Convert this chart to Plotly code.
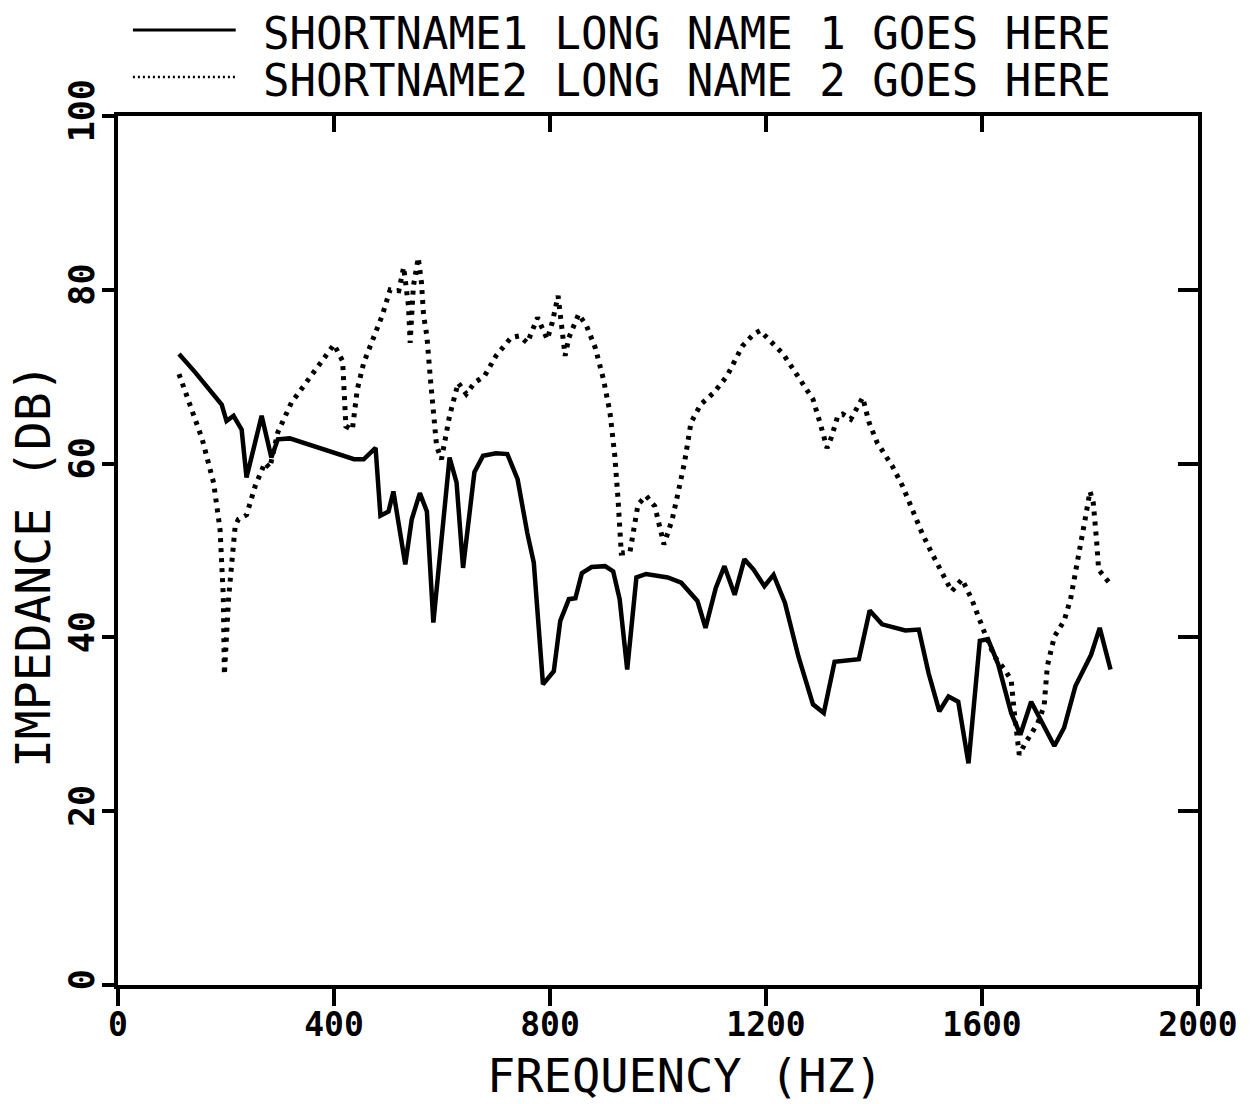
import plotly.graph_objects as go

# Series 1 (solid)
freq1 = [113, 143, 192, 201, 214, 229, 238, 266, 284, 296, 318, 425, 437, 455, 477, 486, 501, 510,
         532, 544, 559, 572, 584, 614, 627, 639, 660, 676, 700, 721, 740, 758, 770, 787, 807, 819,
         835, 847, 859, 877, 902, 917, 929, 943, 960, 978, 1018, 1043, 1073, 1088, 1107, 1123, 1142,
         1160, 1177, 1197, 1214, 1235, 1260, 1287, 1307, 1327, 1372, 1392, 1415, 1458, 1483, 1501,
         1521, 1538, 1556, 1575, 1596, 1611, 1630, 1654, 1671, 1691, 1709, 1734, 1752, 1773, 1802,
         1818, 1838]
imp1 = [72.6, 70.5, 66.8, 64.9, 65.5, 63.9, 58.4, 65.5, 60.7, 62.8, 62.9, 60.7, 60.5, 60.5, 61.8,
        54.0, 54.5, 56.8, 48.4, 53.6, 56.6, 54.5, 41.7, 60.7, 57.8, 48.0, 59.0, 60.9, 61.2, 61.1,
        58.2, 52.0, 48.6, 34.6, 36.1, 41.9, 44.4, 44.5, 47.4, 48.1, 48.2, 47.6, 44.4, 36.3, 46.9,
        47.3, 46.9, 46.3, 44.2, 41.1, 45.7, 48.2, 44.9, 49.0, 47.8, 45.9, 47.2, 44.0, 37.8, 32.3,
        31.3, 37.2, 37.5, 43.1, 41.5, 40.8, 40.9, 35.9, 31.5, 33.2, 32.6, 25.5, 39.6, 39.8, 36.9,
        31.3, 28.8, 32.6, 30.5, 27.5, 29.6, 34.4, 38.0, 41.1, 36.3]

# Series 2 (dotted)
freq2 = [113, 137, 156, 177, 189, 195, 197, 205, 217, 223, 238, 254, 272, 281, 296, 321, 351, 373,
         400, 416, 422, 434, 443, 455, 474, 489, 504, 520, 529, 538, 541, 547, 556, 562, 566, 572,
         578, 584, 590, 599, 614, 630, 645, 660, 679, 700, 728, 743, 758, 777, 795, 804, 815, 828,
         835, 853, 868, 884, 899, 911, 920, 926, 932, 948, 963, 978, 994, 1011, 1026, 1036, 1049,
         1061, 1079, 1104, 1128, 1156, 1177, 1189, 1214, 1232, 1250, 1275, 1287, 1300, 1313, 1321,
         1333, 1342, 1357, 1379, 1391, 1406, 1434, 1453, 1470, 1489, 1507, 1526, 1544, 1563, 1581,
         1605, 1623, 1642, 1654, 1660, 1669, 1678, 1703, 1715, 1721, 1734, 1752, 1764, 1776, 1791,
         1800, 1806, 1812, 1816, 1838]
imp2 = [70.3, 66.2, 62.8, 57.8, 52.4, 44.7, 35.7, 44.7, 52.8, 53.6, 54.1, 57.4, 60.1, 59.5, 63.6,
        67.0, 69.5, 71.4, 73.7, 71.8, 64.3, 63.9, 68.5, 71.6, 74.7, 77.0, 80.0, 79.9, 82.6, 78.1,
        73.9, 80.4, 83.7, 80.8, 77.0, 74.7, 70.1, 66.2, 62.0, 60.5, 65.5, 69.3, 68.0, 69.3, 70.1,
        72.4, 74.5, 74.7, 73.9, 76.8, 74.3, 76.2, 79.3, 72.4, 74.5, 77.2, 75.8, 73.3, 69.7, 65.9,
        60.9, 55.9, 49.7, 49.8, 55.3, 56.3, 55.1, 50.7, 53.5, 56.3, 60.1, 64.7, 66.8, 68.2, 70.1,
        73.5, 74.9, 75.3, 73.8, 72.6, 70.9, 68.5, 67.4, 64.7, 61.8, 63.0, 65.5, 65.7, 65.1, 67.6,
        64.7, 62.4, 59.7, 57.4, 54.7, 52.0, 49.7, 47.4, 45.3, 46.7, 44.4, 40.5, 37.8, 36.3, 35.1,
        31.3, 26.5, 27.6, 30.1, 32.1, 36.7, 40.1, 41.9, 44.4, 48.2, 53.6, 56.8, 55.5, 51.3, 47.8,
        46.1]

x_ticks = [0, 400, 800, 1200, 1600, 2000]
y_ticks = [0, 20, 40, 60, 80, 100]
legend_names = ["SHORTNAME1 LONG NAME 1 GOES HERE", "SHORTNAME2 LONG NAME 2 GOES HERE"]
x_title = "FREQUENCY (HZ)"
y_title = "IMPEDANCE (DB)"

TXT = "DejaVu Sans Mono"

fig = go.Figure()
fig.add_trace(go.Scatter(x=freq1, y=imp1, mode="lines", name=legend_names[0],
                         line=dict(color="black", width=4.5), showlegend=False))
fig.add_trace(go.Scatter(x=freq2, y=imp2, mode="lines", name=legend_names[1],
                         line=dict(color="black", width=5, dash="4px,6px"), showlegend=False))
# invisible trace so the mirrored frame axes (top / right, inward ticks) are drawn
fig.add_trace(go.Scatter(x=freq1, y=imp1, mode="lines", xaxis="x2", yaxis="y2",
                         line=dict(color="rgba(0,0,0,0)", width=0), hoverinfo="skip",
                         showlegend=False))

axis_common = dict(showgrid=False, zeroline=False, showline=True, linecolor="black",
                   linewidth=3.5, tickcolor="black", tickwidth=3.5)

fig.update_layout(
    width=1250, height=1104,
    margin=dict(l=118, r=42, t=116, b=119),
    paper_bgcolor="white", plot_bgcolor="white",
    xaxis=dict(range=[0, 2000], tickvals=x_ticks, ticks="outside", ticklen=17,
               ticklabelstandoff=-9,
               tickfont=dict(family=TXT, size=33, color="black", weight="bold"),
               **axis_common),
    xaxis2=dict(range=[0, 2000], tickvals=x_ticks, ticks="inside", ticklen=16,
                overlaying="x", side="top", showticklabels=False, **axis_common),
    yaxis=dict(range=[0, 100], tickvals=y_ticks, ticks="outside", ticklen=12, tickangle=-90,
               ticklabelstandoff=-6,
               tickfont=dict(family=TXT, size=35, color="black", weight="bold"),
               **axis_common),
    yaxis2=dict(range=[0, 100], tickvals=y_ticks, ticks="inside", ticklen=20,
                overlaying="y", side="right", showticklabels=False, **axis_common),
)

# Legend drawn manually (long line samples as in the plotter output)
fig.add_shape(type="line", xref="paper", yref="paper", x0=0.0138, x1=0.109, y0=1.099, y1=1.099,
              line=dict(color="black", width=3))
fig.add_shape(type="line", xref="paper", yref="paper", x0=0.0138, x1=0.109, y0=1.045, y1=1.045,
              line=dict(color="black", width=2.5, dash="2px,3px"))
fig.add_annotation(text=legend_names[0], xref="paper", yref="paper", x=0.132, y=1.0955,
                   xanchor="left", yanchor="middle", showarrow=False,
                   font=dict(family=TXT, size=44, color="black"))
fig.add_annotation(text=legend_names[1], xref="paper", yref="paper", x=0.132, y=1.0403,
                   xanchor="left", yanchor="middle", showarrow=False,
                   font=dict(family=TXT, size=44, color="black"))

fig.add_annotation(text=x_title, xref="paper", yref="paper", x=0.525, y=-0.138,
                   xanchor="center", yanchor="bottom", showarrow=False,
                   font=dict(family=TXT, size=47, color="black"))
fig.add_annotation(text=y_title, xref="paper", yref="paper", x=-0.078, y=0.483,
                   xanchor="center", yanchor="middle", showarrow=False, textangle=-90,
                   font=dict(family=TXT, size=48, color="black"))

# remove the default 8px page margin so the figure fills the window exactly
fig.write_html("out.html", config={"displayModeBar": False},
               post_script="document.body.style.margin='0';")
